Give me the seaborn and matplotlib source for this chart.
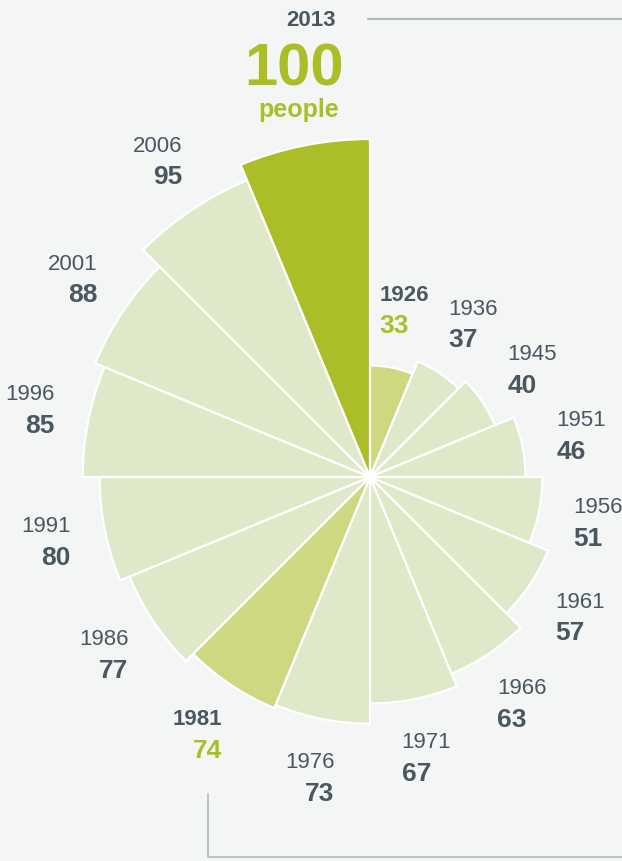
import numpy as np
import pandas as pd
import matplotlib
matplotlib.use("Agg")
import matplotlib.pyplot as plt
import seaborn as sns

years = ["1926", "1936", "1945", "1951", "1956", "1961", "1966", "1971",
         "1976", "1981", "1986", "1991", "1996", "2001", "2006", "2013"]
values = [33, 37, 40, 46, 51, 57, 63, 67, 73, 74, 77, 80, 85, 88, 95, 100]
highlight = ["mid", "light", "light", "light", "light", "light", "light", "light",
             "light", "mid", "light", "light", "light", "light", "light", "dark"]

df = pd.DataFrame({"year": years, "value": values, "kind": highlight})

sns.set_theme(style="white")
plt.rcParams['font.family'] = ['Liberation Sans', 'DejaVu Sans']

BG = "#f4f6f6"
TXT = "#4a5761"
GREEN = "#abbd27"
palette = {"light": "#dfe8c8", "mid": "#ced880", "dark": "#abbd27"}

W, H = 622, 862
fig = plt.figure(figsize=(W / 100, H / 100), dpi=100, facecolor=BG)

cx, cy = 370, 478          # centre in pixels (from top)
R100 = 338                 # pixel radius for value 100
rmax = 110
Rpx = R100 * rmax / 100
ax = fig.add_axes([(cx - Rpx) / W, (H - cy - Rpx) / H, 2 * Rpx / W, 2 * Rpx / H],
                  projection="polar")
ax.set_theta_zero_location("N")
ax.set_theta_direction(-1)
ax.set_ylim(0, rmax)
ax.patch.set_alpha(0)
ax.grid(False)
ax.set_xticks([])
ax.set_yticks([])
ax.spines["polar"].set_visible(False)

n = len(df)
width = 2 * np.pi / n
theta = np.arange(n) * width + width / 2
colors = [palette[k] for k in df["kind"]]
ax.bar(theta, df["value"], width=width, color=colors, edgecolor="white",
       linewidth=1.6, align="center", zorder=2)
# small white centre
ax.bar([0], [1.8], width=2 * np.pi, color="white", edgecolor="none", zorder=3)

# labels
for i, row in df.iterrows():
    if row["year"] == "2013":
        continue
    t = theta[i]
    r = row["value"] + 17.5
    deg = np.degrees(t)
    right_side = deg < 180
    ha = "left" if right_side else "right"
    dx = -24 if right_side else 24
    special = row["kind"] == "mid"
    ax.annotate(row["year"], xy=(t, r), xytext=(dx, 15.5), textcoords="offset pixels",
                ha=ha, va="center", fontsize=16, color=TXT,
                fontweight="bold" if special else "normal", annotation_clip=False)
    ax.annotate(str(row["value"]), xy=(t, r), xytext=(dx, -15.5), textcoords="offset pixels",
                ha=ha, va="center", fontsize=19, fontweight="bold",
                color=GREEN if special else TXT, annotation_clip=False)

# top label for 2013
fig.text(311 / W, 1 - 20 / H, df["year"].iloc[-1], ha="center", va="center",
         fontsize=16, fontweight="bold", color=TXT)
fig.text(294 / W, 1 - 85 / H, str(df["value"].iloc[-1]), ha="center", va="baseline",
         fontsize=43, fontweight="bold", color=GREEN)
fig.text(299 / W, 1 - 117 / H, "people", ha="center", va="baseline",
         fontsize=18, fontweight="bold", color=GREEN)

# guide lines
line_color = "#b3b8bb"
fig.add_artist(plt.Line2D([368 / W, 1.0], [1 - 20 / H, 1 - 20 / H],
                          color=line_color, linewidth=1.5))
fig.add_artist(plt.Line2D([208 / W, 208 / W, 1.0], [1 - 795 / H, 1 - 858 / H, 1 - 858 / H],
                          color=line_color, linewidth=1.2))

fig.savefig("out.png", dpi=100, facecolor=BG)
